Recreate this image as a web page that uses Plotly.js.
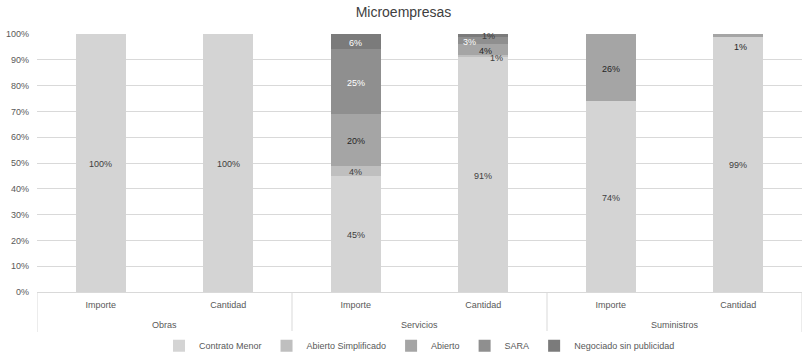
<!DOCTYPE html>
<html>
<head>
<meta charset="utf-8">
<script src="https://cdn.plot.ly/plotly-3.0.1.min.js"></script>
<style>html,body{margin:0;padding:0;background:#fff;}#chart{width:807px;height:358px;}</style>
</head>
<body>
<div id="chart"></div>
<script>
// Data (percent of total per bar)
const groups = ["Obras", "Obras", "Servicios", "Servicios", "Suministros", "Suministros"];
const measures = ["Importe", "Cantidad", "Importe", "Cantidad", "Importe", "Cantidad"];
const seriesNames = ["Contrato Menor", "Abierto Simplificado", "Abierto", "SARA", "Negociado sin publicidad"];
const contratoMenor = [100, 100, 45, 91, 74, 99];
const abiertoSimplificado = [0, 0, 4, 1, 0, 0];
const abierto = [0, 0, 20, 4, 26, 1];
const sara = [0, 0, 25, 3, 0, 0];
const negociado = [0, 0, 6, 1, 0, 0];
const yTicks = [0, 10, 20, 30, 40, 50, 60, 70, 80, 90, 100];

const seriesValues = [contratoMenor, abiertoSimplificado, abierto, sara, negociado];
const colors = ["#d4d4d4", "#bfbfbf", "#a5a5a5", "#8f8f8f", "#7b7b7b"];
const labelColors = ["#404040", "#404040", "#262626", "#ffffff", "#ffffff"];

const font = "Liberation Sans, Arial, sans-serif";
const pos = measures.map((_, i) => i);

const traces = seriesValues.map((vals, i) => ({
  type: "bar",
  name: seriesNames[i],
  x: pos,
  y: vals,
  marker: {color: colors[i], line: {width: 0}},
  hoverinfo: "skip"
}));

// Data labels at the centre of each segment; nudges for crowded ones
const nudges = {
  "1,3": [13, -1, null],
  "2,3": [2, -1, null],
  "3,3": [-14, -1, null],
  "4,3": [5, 0, "#404040"],
  "2,5": [2, -11, null]
};
const annotations = [];
const cum = new Array(measures.length).fill(0);
seriesValues.forEach((vals, i) => {
  vals.forEach((v, j) => {
    if (v > 0) {
      const mid = cum[j] + v / 2;
      const n = nudges[i + "," + j] || [0, 0, null];
      annotations.push({
        x: j, y: mid, xref: "x", yref: "y",
        text: v + "%", showarrow: false,
        xshift: n[0], yshift: n[1] - 1,
        font: {family: font, size: 9, color: n[2] || labelColors[i]}
      });
    }
    cum[j] += v;
  });
});

// Group labels and dividers of the two-level category axis
const shapes = [];
const lineStyle = {color: "#d9d9d9", width: 1};
let start = 0;
for (let j = 1; j <= groups.length; j++) {
  if (j === groups.length || groups[j] !== groups[start]) {
    annotations.push({
      x: (start + j - 1) / 2, y: -0.128, xref: "x", yref: "paper",
      yanchor: "middle", text: groups[start], showarrow: false,
      font: {family: font, size: 9, color: "#595959"}
    });
    if (start === 0) {
      shapes.push({type: "line", xref: "x", yref: "paper", x0: -0.5, x1: -0.5, y0: 0, y1: -0.155, line: lineStyle});
    }
    shapes.push({type: "line", xref: "x", yref: "paper", x0: j - 0.5, x1: j - 0.5, y0: 0, y1: -0.155, line: lineStyle});
    start = j;
  }
}

const layout = {
  width: 807, height: 358,
  margin: {l: 37, r: 5, t: 34, b: 66, autoexpand: false},
  paper_bgcolor: "#ffffff", plot_bgcolor: "#ffffff",
  barmode: "stack",
  bargap: 0.61,
  title: {text: "Microempresas", x: 0.5, xanchor: "center", y: 0.965, yanchor: "middle",
          font: {family: font, size: 14, color: "#404040"}},
  font: {family: font, size: 9, color: "#595959"},
  xaxis: {
    type: "linear", range: [-0.5, measures.length - 0.5],
    tickvals: pos, ticktext: measures,
    showgrid: false, zeroline: false,
    showline: true, linecolor: "#d9d9d9", linewidth: 1,
    ticks: "", ticklabelstandoff: 4,
    tickfont: {family: font, size: 9, color: "#595959"}
  },
  yaxis: {
    range: [0, 100], tickvals: yTicks, ticktext: yTicks.map(t => t + "%"),
    showgrid: true, gridcolor: "#d9d9d9", gridwidth: 1,
    zeroline: false, showline: false, ticks: "", ticklabelstandoff: 7,
    tickfont: {family: font, size: 9, color: "#595959"}
  },
  legend: {orientation: "h", x: 0.5, xanchor: "center", xref: "paper",
           y: 0.034, yanchor: "middle", yref: "container",
           font: {family: font, size: 9, color: "#595959"}, traceorder: "normal",
           itemwidth: 30},
  annotations: annotations,
  shapes: shapes,
  showlegend: true
};

Plotly.newPlot("chart", traces, layout, {displayModeBar: false, staticPlot: true});
</script>
</body>
</html>
